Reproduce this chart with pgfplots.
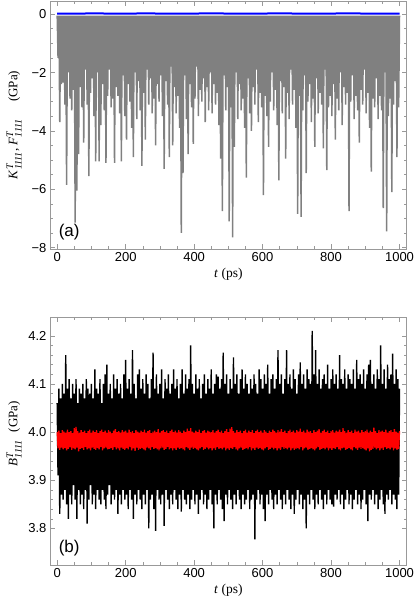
\documentclass[border=0pt]{standalone}
\usepackage{fontspec}
\setmainfont{Liberation Serif}
\setsansfont{Liberation Sans}
\usepackage{amsmath}
\usepackage{pgfplots}
\pgfplotsset{compat=1.18}
\usetikzlibrary{calc}
\definecolor{framegray}{gray}{0.6}
\newcommand{\sx}[1]{\text{\fontsize{10}{10}\selectfont\textit{#1}}}
\pgfplotsset{
  mystyle/.style={
    scale only axis, width=356.7pt, height=248pt,
    xmin=-21, xmax=1021,
    axis line style={framegray, line width=0.6pt},
    tick align=inside, major tick length=5pt, minor tick length=3pt,
    every tick/.style={framegray, line width=0.5pt},
    xtick={0,200,...,1000}, minor x tick num=3,
    ticklabel style={font=\sffamily\fontsize{13}{13}\selectfont, text=black},
    /pgf/number format/assume math mode=true,
    /pgf/number format/1000 sep={},
    xlabel style={font=\fontsize{13.5}{14}\selectfont},
    xlabel={\textit{t} (ps)},
    anchor=south west,
  }
}
\begin{document}
\begin{tikzpicture}
\useasboundingbox (0pt,0pt) rectangle (415pt,608pt);
% ---------------- panel (a)
\begin{axis}[mystyle, at={(50pt,359pt)},
  ymin=-8.05, ymax=0.45, ytick={-8,-6,-4,-2,0}, yticklabels={−8,−6,−4,−2,0}, minor y tick num=3,
  every axis y label/.style={at={($(rel axis cs:0,0.5)+(-36pt,0pt)$)}, rotate=90, anchor=center, font=\fontsize{13}{13}\selectfont},
  ylabel={\textit{K}$^{\sx{T}}_{\sx{1111}}$, \textit{F}$^{\sx{T}}_{\sx{1111}}$\hspace{1.3em}(GPa)}]
\addplot[color={rgb,255:red,128;green,128;blue,128}, line width=1.5pt] table {
0 -0.05
2.5 -1.5
5 -0.05
7.5 -3.7
10 -0.05
12.5 -2.4
15 -0.05
17.5 -2.35
20 -0.05
22.5 -3.1
25 -0.05
27.5 -5.85
30 -0.05
32.5 -2.0
35 -0.05
37.5 -2.9
40 -0.05
42.5 -3.3
45 -0.05
47.5 -2.6
50 -0.05
52.5 -7.15
55 -0.05
57.5 -6.05
60 -0.05
62.5 -4.8
65 -0.05
67.5 -2.5
70 -0.05
72.5 -3.2
75 -0.05
77.5 -4.4
80 -0.05
82.5 -1.9
85 -0.05
87.5 -3.1
90 -0.05
92.5 -5.55
95 -0.05
97.5 -2.7
100 -0.05
102.5 -2.2
105 -0.05
107.5 -3.5
110 -0.05
112.5 -5.05
115 -0.05
117.5 -2.0
120 -0.05
122.5 -5.05
125 -0.05
127.5 -3.8
130 -0.05
132.5 -2.4
135 -0.05
137.5 -3.3
140 -0.05
142.5 -5.1
145 -0.05
147.5 -2.8
150 -0.05
152.5 -1.9
155 -0.05
157.5 -3.2
160 -0.05
162.5 -2.9
165 -0.05
167.5 -5.1
170 -0.05
172.5 -2.5
175 -0.05
177.5 -2.8
180 -0.05
182.5 -3.4
185 -0.05
187.5 -5.05
190 -0.05
192.5 -2.1
195 -0.05
197.5 -3.5
200 -0.05
202.5 -4.3
205 -0.05
207.5 -2.4
210 -0.05
212.5 -3.0
215 -0.05
217.5 -3.9
220 -0.05
222.5 -4.9
225 -0.05
227.5 -2.0
230 -0.05
232.5 -3.6
235 -0.05
237.5 -2.3
240 -0.05
242.5 -3.3
245 -0.05
247.5 -5.2
250 -0.05
252.5 -2.7
255 -0.05
257.5 -4.3
260 -0.05
262.5 -1.9
265 -0.05
267.5 -3.1
270 -0.05
272.5 -2.2
275 -0.05
277.5 -3.4
280 -0.05
282.5 -2.9
285 -0.05
287.5 -4.5
290 -0.05
292.5 -2.4
295 -0.05
297.5 -3.0
300 -0.05
302.5 -2.1
305 -0.05
307.5 -3.5
310 -0.05
312.5 -5.3
315 -0.05
317.5 -2.3
320 -0.05
322.5 -3.1
325 -0.05
327.5 -4.9
330 -0.05
332.5 -1.8
335 -0.05
337.5 -4.5
340 -0.05
342.5 -2.5
345 -0.05
347.5 -3.4
350 -0.05
352.5 -2.8
355 -0.05
357.5 -3.9
360 -0.05
362.5 -7.5
365 -0.05
367.5 -5.45
370 -0.05
372.5 -2.1
375 -0.05
377.5 -3.6
380 -0.05
382.5 -4.8
385 -0.05
387.5 -2.4
390 -0.05
392.5 -3.2
395 -0.05
397.5 -4.45
400 -0.05
402.5 -2.9
405 -0.05
407.5 -1.8
410 -0.05
412.5 -3.5
415 -0.05
417.5 -2.6
420 -0.05
422.5 -3.0
425 -0.05
427.5 -2.2
430 -0.05
432.5 -3.7
435 -0.05
437.5 -2.5
440 -0.05
442.5 -3.3
445 -0.05
447.5 -2.0
450 -0.05
452.5 -3.4
455 -0.05
457.5 -2.4
460 -0.05
462.5 -3.1
465 -0.05
467.5 -2.7
470 -0.05
472.5 -3.8
475 -0.05
477.5 -4.95
480 -0.05
482.5 -6.75
485 -0.05
487.5 -2.1
490 -0.05
492.5 -3.3
495 -0.05
497.5 -2.5
500 -0.05
502.5 -7.1
505 -0.05
507.5 -3.2
510 -0.05
512.5 -7.65
515 -0.05
517.5 -4.55
520 -0.05
522.5 -2.0
525 -0.05
527.5 -3.6
530 -0.05
532.5 -2.4
535 -0.05
537.5 -3.3
540 -0.05
542.5 -2.9
545 -0.05
547.5 -3.9
550 -0.05
552.5 -5.6
555 -0.05
557.5 -2.2
560 -0.05
562.5 -3.4
565 -0.05
567.5 -4.0
570 -0.05
572.5 -2.5
575 -0.05
577.5 -3.1
580 -0.05
582.5 -1.9
585 -0.05
587.5 -3.7
590 -0.05
592.5 -2.7
595 -0.05
597.5 -3.2
600 -0.05
602.5 -6.2
605 -0.05
607.5 -2.8
610 -0.05
612.5 -3.5
615 -0.05
617.5 -4.55
620 -0.05
622.5 -3.0
625 -0.05
627.5 -2.0
630 -0.05
632.5 -3.3
635 -0.05
637.5 -2.6
640 -0.05
642.5 -3.8
645 -0.05
647.5 -5.7
650 -0.05
652.5 -2.3
655 -0.05
657.5 -3.4
660 -0.05
662.5 -2.5
665 -0.05
667.5 -4.95
670 -0.05
672.5 -2.7
675 -0.05
677.5 -3.6
680 -0.05
682.5 -1.9
685 -0.05
687.5 -3.1
690 -0.05
692.5 -2.6
695 -0.05
697.5 -3.9
700 -0.05
702.5 -6.85
705 -0.05
707.5 -2.8
710 -0.05
712.5 -6.95
715 -0.05
717.5 -3.3
720 -0.05
722.5 -2.1
725 -0.05
727.5 -5.45
730 -0.05
732.5 -3.0
735 -0.05
737.5 -2.4
740 -0.05
742.5 -3.7
745 -0.05
747.5 -2.9
750 -0.05
752.5 -4.55
755 -0.05
757.5 -2.2
760 -0.05
762.5 -3.4
765 -0.05
767.5 -2.7
770 -0.05
772.5 -3.1
775 -0.05
777.5 -4.6
780 -0.05
782.5 -1.9
785 -0.05
787.5 -5.35
790 -0.05
792.5 -3.2
795 -0.05
797.5 -2.8
800 -0.05
802.5 -3.5
805 -0.05
807.5 -2.4
810 -0.05
812.5 -4.3
815 -0.05
817.5 -2.9
820 -0.05
822.5 -3.3
825 -0.05
827.5 -2.0
830 -0.05
832.5 -3.8
835 -0.05
837.5 -2.5
840 -0.05
842.5 -3.1
845 -0.05
847.5 -2.7
850 -0.05
852.5 -6.75
855 -0.05
857.5 -3.0
860 -0.05
862.5 -2.1
865 -0.05
867.5 -3.6
870 -0.05
872.5 -2.8
875 -0.05
877.5 -3.3
880 -0.05
882.5 -4.4
885 -0.05
887.5 -2.6
890 -0.05
892.5 -3.1
895 -0.05
897.5 -1.9
900 -0.05
902.5 -3.4
905 -0.05
907.5 -2.7
910 -0.05
912.5 -3.9
915 -0.05
917.5 -5.4
920 -0.05
922.5 -2.9
925 -0.05
927.5 -3.2
930 -0.05
932.5 -2.2
935 -0.05
937.5 -3.6
940 -0.05
942.5 -2.8
945 -0.05
947.5 -3.3
950 -0.05
952.5 -6.65
955 -0.05
957.5 -2.0
960 -0.05
962.5 -7.45
965 -0.05
967.5 -3.5
970 -0.05
972.5 -2.9
975 -0.05
977.5 -6.1
980 -0.05
982.5 -3.1
985 -0.05
987.5 -2.3
990 -0.05
992.5 -4.9
995 -0.05
997.5 -3.2
1000 -0.05
};
\addplot[color=blue, line width=2pt] coordinates {
(0,0.02) (50,0.015) (100,0.025) (150,0.02) (200,0.015) (250,0.025) (300,0.02)
(350,0.015) (400,0.02) (450,0.025) (500,0.02) (550,0.015) (600,0.02) (650,0.025)
(700,0.02) (750,0.015) (800,0.02) (850,0.025) (900,0.02) (950,0.015) (1000,0.02)};
\node[anchor=west, font=\sffamily\fontsize{17}{17}\selectfont, inner sep=0pt] at (rel axis cs:0.024,0.068) {(a)};
\end{axis}
% ---------------- panel (b)
\begin{axis}[mystyle, at={(50pt,43pt)},
  ymin=3.724, ymax=4.239, ytick={3.8,3.9,4.0,4.1,4.2}, minor y tick num=4,
  yticklabel style={/pgf/number format/.cd, fixed, fixed zerofill, precision=1},
  every axis y label/.style={at={($(rel axis cs:0,0.53)+(-36pt,0pt)$)}, rotate=90, anchor=center, font=\fontsize{13}{13}\selectfont},
  ylabel={\textit{B}$^{\sx{T}}_{\sx{1111}}$\hspace{0.6em}(GPa)}]
\addplot[color=black, line width=1.4pt] table {
0 4.06
2.5 3.91
5 4.09
7.5 3.83
10 4.07
12.5 3.87
15 4.10
17.5 3.86
20 4.08
22.5 3.88
25 4.16
27.5 3.85
30 4.09
32.5 3.82
35 4.11
37.5 3.87
40 4.07
42.5 3.85
45 4.10
47.5 3.89
50 4.08
52.5 3.86
55 4.11
57.5 3.82
60 4.06
62.5 3.88
65 4.09
67.5 3.85
70 4.08
72.5 3.87
75 4.10
77.5 3.84
80 4.07
82.5 3.88
85 4.11
87.5 3.81
90 4.09
92.5 3.86
95 4.08
97.5 3.89
100 4.10
102.5 3.85
105 4.07
107.5 3.87
110 4.13
112.5 3.84
115 4.09
117.5 3.88
120 4.08
122.5 3.86
125 4.11
127.5 3.85
130 4.06
132.5 3.88
135 4.10
137.5 3.86
140 4.12
142.5 3.84
145 4.14
147.5 3.87
150 4.08
152.5 3.89
155 4.10
157.5 3.85
160 4.07
162.5 3.87
165 4.12
167.5 3.86
170 4.09
172.5 3.88
175 4.11
177.5 3.83
180 4.08
182.5 3.87
185 4.10
187.5 3.85
190 4.07
192.5 3.88
195 4.12
197.5 3.86
200 4.15
202.5 3.87
205 4.09
207.5 3.84
210 4.11
212.5 3.88
215 4.08
217.5 3.86
220 4.17
222.5 3.82
225 4.10
227.5 3.87
230 4.07
232.5 3.85
235 4.12
237.5 3.88
240 4.13
242.5 3.86
245 4.09
247.5 3.84
250 4.11
252.5 3.87
255 4.08
257.5 3.85
260 4.12
262.5 3.88
265 4.10
267.5 3.80
270 4.07
272.5 3.86
275 4.11
277.5 3.87
280 4.165
282.5 3.84
285 4.09
287.5 3.795
290 4.12
292.5 3.88
295 4.08
297.5 3.86
300 4.10
302.5 3.85
305 4.13
307.5 3.87
310 4.07
312.5 3.805
315 4.11
317.5 3.88
320 4.09
322.5 3.86
325 4.12
327.5 3.84
330 4.08
332.5 3.87
335 4.10
337.5 3.85
340 4.13
342.5 3.88
345 4.09
347.5 3.86
350 4.11
352.5 3.84
355 4.07
357.5 3.87
360 4.10
362.5 3.835
365 4.13
367.5 3.88
370 4.08
372.5 3.86
375 4.12
377.5 3.85
380 4.09
382.5 3.87
385 4.11
387.5 3.84
390 4.18
392.5 3.86
395 4.10
397.5 3.88
400 4.08
402.5 3.85
405 4.12
407.5 3.87
410 4.09
412.5 3.83
415 4.11
417.5 3.86
420 4.07
422.5 3.88
425 4.10
427.5 3.85
430 4.12
432.5 3.87
435 4.08
437.5 3.84
440 4.11
442.5 3.86
445 4.09
447.5 3.88
450 4.13
452.5 3.85
455 4.08
457.5 3.80
460 4.10
462.5 3.87
465 4.12
467.5 3.85
470 4.115
472.5 3.88
475 4.09
477.5 3.86
480 4.11
482.5 3.84
485 4.165
487.5 3.815
490 4.10
492.5 3.87
495 4.12
497.5 3.85
500 4.08
502.5 3.88
505 4.11
507.5 3.86
510 4.09
512.5 3.84
515 4.155
517.5 3.87
520 4.10
522.5 3.85
525 4.12
527.5 3.88
530 4.08
532.5 3.86
535 4.11
537.5 3.84
540 4.13
542.5 3.87
545 4.09
547.5 3.85
550 4.12
552.5 3.86
555 4.10
557.5 3.88
560 4.08
562.5 3.84
565 4.11
567.5 3.86
570 4.09
572.5 3.87
575 4.12
577.5 3.777
580 4.10
582.5 3.86
585 4.08
587.5 3.88
590 4.13
592.5 3.85
595 4.11
597.5 3.87
600 4.09
602.5 3.84
605 4.12
607.5 3.815
610 4.10
612.5 3.87
615 4.14
617.5 3.85
620 4.08
622.5 3.88
625 4.11
627.5 3.86
630 4.12
632.5 3.84
635 4.09
637.5 3.87
640 4.11
642.5 3.85
645 4.17
647.5 3.88
650 4.10
652.5 3.86
655 4.12
657.5 3.84
660 4.08
662.5 3.87
665 4.11
667.5 3.85
670 4.17
672.5 3.88
675 4.10
677.5 3.86
680 4.12
682.5 3.84
685 4.09
687.5 3.87
690 4.13
692.5 3.83
695 4.11
697.5 3.86
700 4.08
702.5 3.88
705 4.12
707.5 3.85
710 4.145
712.5 3.87
715 4.10
717.5 3.84
720 4.12
722.5 3.86
725 4.09
727.5 3.80
730 4.13
732.5 3.87
735 4.11
737.5 3.85
740 4.10
742.5 3.88
745 4.21
747.5 3.86
750 4.12
752.5 3.84
755 4.17
757.5 3.87
760 4.10
762.5 3.85
765 4.13
767.5 3.88
770 4.09
772.5 3.86
775 4.11
777.5 3.84
780 4.12
782.5 3.87
785 4.10
787.5 3.85
790 4.14
792.5 3.88
795 4.09
797.5 3.86
800 4.11
802.5 3.85
805 4.13
807.5 3.845
810 4.10
812.5 3.87
815 4.12
817.5 3.86
820 4.09
822.5 3.88
825 4.16
827.5 3.85
830 4.11
832.5 3.87
835 4.10
837.5 3.84
840 4.13
842.5 3.86
845 4.09
847.5 3.88
850 4.12
852.5 3.85
855 4.11
857.5 3.87
860 4.10
862.5 3.84
865 4.13
867.5 3.86
870 4.09
872.5 3.88
875 4.15
877.5 3.85
880 4.11
882.5 3.87
885 4.12
887.5 3.84
890 4.10
892.5 3.86
895 4.13
897.5 3.88
900 4.09
902.5 3.85
905 4.12
907.5 3.815
910 4.14
912.5 3.87
915 4.15
917.5 3.86
920 4.10
922.5 3.88
925 4.12
927.5 3.85
930 4.09
932.5 3.87
935 4.13
937.5 3.84
940 4.11
942.5 3.86
945 4.18
947.5 3.88
950 4.10
952.5 3.85
955 4.13
957.5 3.83
960 4.09
962.5 3.87
965 4.14
967.5 3.86
970 4.11
972.5 3.88
975 4.12
977.5 3.85
980 4.163
982.5 3.87
985 4.10
987.5 3.86
990 4.13
992.5 3.84
995 4.11
997.5 3.87
1000 4.09
};
\addplot[color=red, line width=1.3pt] table {
0 4.000
2.5 3.966
5 4.003
7.5 3.963
10 3.998
12.5 3.968
15 4.004
17.5 3.964
20 4.001
22.5 3.967
25 3.999
27.5 3.962
30 4.005
32.5 3.965
35 4.000
37.5 3.969
40 4.002
42.5 3.963
45 3.998
47.5 3.966
50 4.008
52.5 3.964
55 4.011
57.5 3.968
60 4.002
62.5 3.960
65 3.999
67.5 3.965
70 4.004
72.5 3.967
75 4.000
77.5 3.963
80 4.003
82.5 3.969
85 3.998
87.5 3.964
90 4.002
92.5 3.966
95 4.005
97.5 3.962
100 3.999
102.5 3.968
105 4.003
107.5 3.965
110 4.000
112.5 3.963
115 4.004
117.5 3.967
120 3.998
122.5 3.964
125 4.002
127.5 3.969
130 4.005
132.5 3.962
135 4.000
137.5 3.966
140 4.003
142.5 3.968
145 3.999
147.5 3.964
150 4.004
152.5 3.965
155 4.001
157.5 3.967
160 3.998
162.5 3.963
165 4.003
167.5 3.969
170 4.006
172.5 3.964
175 4.000
177.5 3.966
180 4.002
182.5 3.962
185 3.999
187.5 3.968
190 4.004
192.5 3.965
195 4.001
197.5 3.963
200 4.003
202.5 3.967
205 3.999
207.5 3.964
210 4.005
212.5 3.969
215 4.000
217.5 3.962
220 4.002
222.5 3.966
225 3.998
227.5 3.961
230 4.004
232.5 3.968
235 4.001
237.5 3.963
240 3.999
242.5 3.965
245 4.003
247.5 3.967
250 4.000
252.5 3.964
255 4.005
257.5 3.962
260 3.999
262.5 3.968
265 4.002
267.5 3.966
270 4.004
272.5 3.963
275 3.998
277.5 3.969
280 4.001
282.5 3.965
285 4.003
287.5 3.967
290 4.000
292.5 3.964
295 4.006
297.5 3.962
300 3.999
302.5 3.966
305 4.002
307.5 3.968
310 4.004
312.5 3.963
315 4.000
317.5 3.965
320 4.003
322.5 3.969
325 3.998
327.5 3.964
330 4.002
332.5 3.967
335 4.005
337.5 3.962
340 4.000
342.5 3.966
345 4.003
347.5 3.963
350 3.999
352.5 3.968
355 4.004
357.5 3.965
360 4.001
362.5 3.967
365 3.998
367.5 3.964
370 4.003
372.5 3.962
375 4.000
377.5 3.969
380 4.007
382.5 3.966
385 4.002
387.5 3.963
390 4.008
392.5 3.968
395 4.001
397.5 3.965
400 3.999
402.5 3.967
405 4.003
407.5 3.964
410 4.000
412.5 3.962
415 4.005
417.5 3.966
420 3.998
422.5 3.969
425 4.002
427.5 3.963
430 4.004
432.5 3.965
435 3.999
437.5 3.968
440 4.003
442.5 3.964
445 4.001
447.5 3.967
450 4.000
452.5 3.962
455 4.004
457.5 3.966
460 3.999
462.5 3.963
465 4.002
467.5 3.969
470 4.005
472.5 3.965
475 4.000
477.5 3.967
480 4.003
482.5 3.964
485 3.998
487.5 3.968
490 4.002
492.5 3.962
495 4.006
497.5 3.966
500 4.000
502.5 3.963
505 4.007
507.5 3.967
510 4.010
512.5 3.965
515 4.002
517.5 3.969
520 3.999
522.5 3.964
525 4.004
527.5 3.962
530 4.000
532.5 3.966
535 4.003
537.5 3.968
540 3.998
542.5 3.963
545 4.002
547.5 3.965
550 4.005
552.5 3.967
555 3.999
557.5 3.964
560 4.003
562.5 3.969
565 4.000
567.5 3.962
570 4.004
572.5 3.966
575 3.998
577.5 3.963
580 4.002
582.5 3.968
585 4.005
587.5 3.965
590 4.000
592.5 3.967
595 4.003
597.5 3.964
600 3.999
602.5 3.962
605 4.004
607.5 3.966
610 4.001
612.5 3.969
615 3.998
617.5 3.963
620 4.003
622.5 3.965
625 4.000
627.5 3.968
630 4.005
632.5 3.964
635 4.002
637.5 3.967
640 3.999
642.5 3.962
645 4.004
647.5 3.966
650 4.001
652.5 3.963
655 4.006
657.5 3.969
660 4.000
662.5 3.965
665 4.003
667.5 3.967
670 3.998
672.5 3.964
675 4.002
677.5 3.968
680 4.005
682.5 3.962
685 4.000
687.5 3.966
690 4.003
692.5 3.963
695 3.999
697.5 3.965
700 4.004
702.5 3.967
705 4.001
707.5 3.964
710 4.007
712.5 3.969
715 4.000
717.5 3.962
720 4.003
722.5 3.966
725 3.999
727.5 3.968
730 4.005
732.5 3.963
735 4.001
737.5 3.965
740 4.002
742.5 3.967
745 3.998
747.5 3.964
750 4.004
752.5 3.962
755 4.000
757.5 3.966
760 4.003
762.5 3.969
765 4.006
767.5 3.963
770 3.999
772.5 3.965
775 4.002
777.5 3.967
780 4.005
782.5 3.964
785 4.000
787.5 3.968
790 4.003
792.5 3.962
795 3.998
797.5 3.966
800 4.002
802.5 3.963
805 4.004
807.5 3.967
810 3.999
812.5 3.965
815 4.003
817.5 3.969
820 4.001
822.5 3.964
825 4.005
827.5 3.962
830 4.000
832.5 3.966
835 4.008
837.5 3.968
840 4.002
842.5 3.963
845 3.999
847.5 3.965
850 4.004
852.5 3.967
855 4.000
857.5 3.964
860 4.003
862.5 3.962
865 3.998
867.5 3.969
870 4.005
872.5 3.966
875 4.001
877.5 3.963
880 4.003
882.5 3.968
885 3.999
887.5 3.965
890 4.004
892.5 3.967
895 4.000
897.5 3.964
900 4.002
902.5 3.962
905 4.005
907.5 3.966
910 3.999
912.5 3.960
915 4.003
917.5 3.963
920 4.000
922.5 3.965
925 4.009
927.5 3.968
930 4.002
932.5 3.964
935 3.998
937.5 3.967
940 4.004
942.5 3.962
945 4.001
947.5 3.966
950 4.003
952.5 3.963
955 4.000
957.5 3.969
960 4.005
962.5 3.965
965 3.999
967.5 3.967
970 4.002
972.5 3.964
975 4.004
977.5 3.968
980 4.000
982.5 3.962
985 4.006
987.5 3.966
990 4.001
992.5 3.963
995 3.999
997.5 3.965
1000 4.002
};
\node[anchor=west, font=\sffamily\fontsize{17}{17}\selectfont, inner sep=0pt] at (rel axis cs:0.024,0.068) {(b)};
\end{axis}
\end{tikzpicture}
\end{document}
